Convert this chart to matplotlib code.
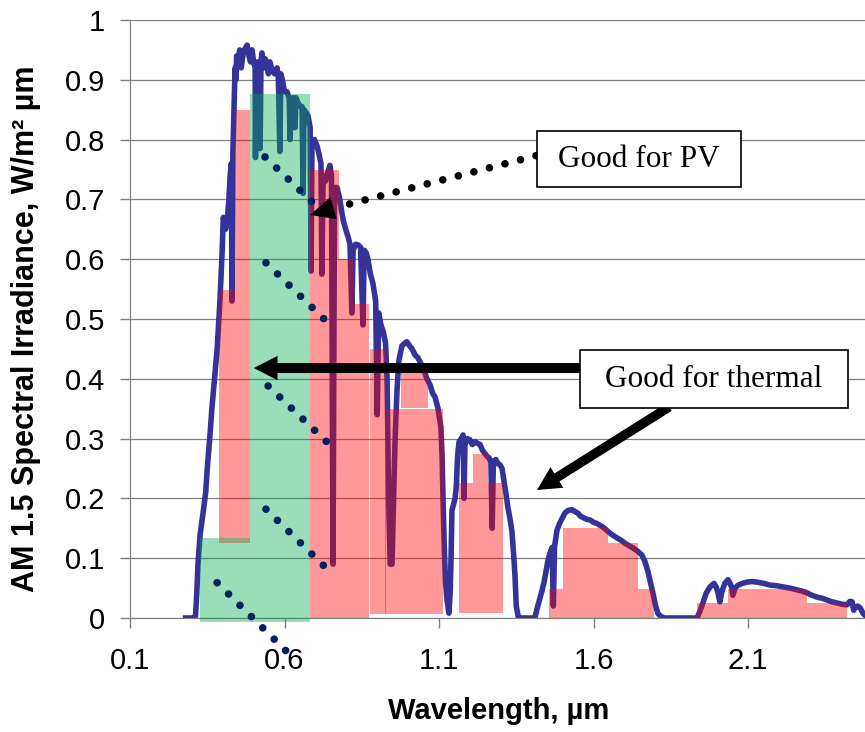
import matplotlib.pyplot as plt

# AM 1.5 spectrum (um, W/m2 um scaled)
wavelength = [
    0.280, 0.305, 0.312, 0.316, 0.320, 0.327, 0.335, 0.345, 0.350, 0.358,
    0.365, 0.375, 0.382, 0.391, 0.398, 0.402, 0.409, 0.414, 0.420, 0.424,
    0.428, 0.430, 0.433, 0.437, 0.440, 0.443, 0.445, 0.450, 0.455, 0.460,
    0.465, 0.470, 0.479, 0.485, 0.490, 0.495, 0.500, 0.505, 0.506, 0.509,
    0.514, 0.520, 0.521, 0.524, 0.527, 0.533, 0.538, 0.543, 0.548, 0.553,
    0.560, 0.568, 0.576, 0.580, 0.585, 0.588, 0.593, 0.600, 0.608, 0.615,
    0.618, 0.621, 0.628, 0.634, 0.637, 0.645, 0.652, 0.657, 0.660, 0.663,
    0.670, 0.676, 0.683, 0.686, 0.689, 0.697, 0.705, 0.712, 0.718, 0.721,
    0.725, 0.732, 0.740, 0.747, 0.752, 0.757, 0.762, 0.770, 0.779, 0.785,
    0.790, 0.798, 0.806, 0.812, 0.818, 0.822, 0.830, 0.838, 0.846, 0.854,
    0.858, 0.865, 0.870, 0.878, 0.886, 0.895, 0.900, 0.905, 0.912, 0.919,
    0.927, 0.932, 0.937, 0.942, 0.948, 0.953, 0.958, 0.964, 0.970, 0.980,
    0.990, 0.996, 1.005, 1.013, 1.022, 1.032, 1.042, 1.051, 1.061, 1.071,
    1.080, 1.087, 1.097, 1.106, 1.110, 1.113, 1.117, 1.121, 1.126, 1.132,
    1.136, 1.139, 1.142, 1.147, 1.152, 1.156, 1.160, 1.165, 1.172, 1.178,
    1.181, 1.184, 1.192, 1.200, 1.208, 1.217, 1.225, 1.233, 1.241, 1.249,
    1.256, 1.262, 1.268, 1.272, 1.276, 1.284, 1.291, 1.298, 1.304, 1.310,
    1.316, 1.323, 1.330, 1.336, 1.341, 1.346, 1.350, 1.356, 1.365, 1.410,
    1.417, 1.425, 1.433, 1.440, 1.447, 1.453, 1.460, 1.466, 1.470, 1.474,
    1.482, 1.490, 1.498, 1.508, 1.518, 1.530, 1.540, 1.550, 1.558, 1.566,
    1.578, 1.589, 1.600, 1.611, 1.621, 1.631, 1.642, 1.653, 1.664, 1.676,
    1.689, 1.702, 1.715, 1.728, 1.742, 1.757, 1.766, 1.776, 1.785, 1.793,
    1.801, 1.809, 1.820, 1.830, 1.935, 1.945, 1.954, 1.965, 1.977, 1.990,
    1.997, 2.003, 2.009, 2.016, 2.025, 2.035, 2.042, 2.048, 2.051, 2.058,
    2.068, 2.082, 2.097, 2.113, 2.129, 2.150, 2.171, 2.192, 2.213, 2.236,
    2.259, 2.275, 2.291, 2.307, 2.323, 2.340, 2.356, 2.372, 2.388, 2.405,
    2.420, 2.430, 2.437, 2.442, 2.446, 2.455, 2.463, 2.472, 2.480,
]
irradiance = [
    0.000, 0.000, 0.003, 0.040, 0.090, 0.140, 0.170, 0.210, 0.250, 0.300,
    0.350, 0.410, 0.450, 0.530, 0.610, 0.670, 0.650, 0.660, 0.700, 0.740,
    0.760, 0.530, 0.780, 0.860, 0.920, 0.900, 0.940, 0.930, 0.950, 0.920,
    0.940, 0.950, 0.958, 0.940, 0.930, 0.950, 0.930, 0.920, 0.770, 0.920,
    0.930, 0.930, 0.785, 0.930, 0.945, 0.920, 0.935, 0.925, 0.910, 0.930,
    0.915, 0.910, 0.920, 0.905, 0.780, 0.910, 0.900, 0.880, 0.880, 0.870,
    0.800, 0.865, 0.870, 0.820, 0.870, 0.860, 0.855, 0.855, 0.710, 0.850,
    0.845, 0.840, 0.820, 0.580, 0.800, 0.800, 0.790, 0.775, 0.760, 0.575,
    0.740, 0.730, 0.745, 0.757, 0.740, 0.090, 0.720, 0.720, 0.700, 0.680,
    0.665, 0.650, 0.637, 0.625, 0.510, 0.615, 0.625, 0.624, 0.620, 0.490,
    0.615, 0.610, 0.600, 0.575, 0.560, 0.530, 0.340, 0.510, 0.490, 0.480,
    0.460, 0.400, 0.200, 0.090, 0.090, 0.200, 0.300, 0.380, 0.430, 0.455,
    0.460, 0.462, 0.455, 0.450, 0.440, 0.435, 0.425, 0.415, 0.400, 0.390,
    0.375, 0.370, 0.350, 0.320, 0.270, 0.200, 0.120, 0.060, 0.030, 0.008,
    0.040, 0.100, 0.180, 0.190, 0.200, 0.220, 0.270, 0.295, 0.300, 0.306,
    0.200, 0.290, 0.300, 0.298, 0.290, 0.295, 0.292, 0.290, 0.280, 0.275,
    0.270, 0.268, 0.260, 0.150, 0.262, 0.265, 0.258, 0.256, 0.250, 0.230,
    0.210, 0.185, 0.165, 0.145, 0.110, 0.070, 0.020, 0.003, 0.000, 0.000,
    0.015, 0.030, 0.045, 0.060, 0.080, 0.097, 0.110, 0.118, 0.020, 0.120,
    0.147, 0.158, 0.166, 0.176, 0.180, 0.181, 0.178, 0.175, 0.170, 0.168,
    0.165, 0.164, 0.160, 0.158, 0.155, 0.152, 0.147, 0.142, 0.138, 0.134,
    0.130, 0.125, 0.121, 0.117, 0.112, 0.105, 0.095, 0.078, 0.058, 0.040,
    0.020, 0.007, 0.002, 0.000, 0.000, 0.012, 0.025, 0.042, 0.052, 0.058,
    0.052, 0.042, 0.027, 0.045, 0.058, 0.064, 0.058, 0.050, 0.038, 0.050,
    0.055, 0.058, 0.060, 0.061, 0.060, 0.058, 0.055, 0.054, 0.052, 0.050,
    0.047, 0.045, 0.042, 0.038, 0.035, 0.033, 0.030, 0.027, 0.025, 0.023,
    0.022, 0.028, 0.027, 0.013, 0.017, 0.020, 0.017, 0.008, 0.004,
]

# bands "good for thermal" (red blocks)
red_left = [0.388, 0.440, 0.683, 0.776, 0.822, 0.877, 0.925, 0.976, 1.165, 1.210, 1.456, 1.501, 1.501, 1.935, 2.035]
red_right = [0.488, 0.488, 0.776, 0.822, 0.873, 0.930, 1.113, 1.066, 1.307, 1.259, 1.796, 1.744, 1.647, 2.420, 2.291]
red_bottom = [0.125, 0.548, 0.0, 0.0, 0.0, 0.007, 0.007, 0.352, 0.008, 0.225, 0.0, 0.048, 0.125, 0.0, 0.025]
red_top = [0.548, 0.850, 0.750, 0.600, 0.525, 0.450, 0.350, 0.425, 0.225, 0.275, 0.048, 0.125, 0.150, 0.025, 0.048]

# band "good for PV" (green blocks)
green_left = [0.327, 0.488]
green_right = [0.683, 0.683]
green_bottom = [-0.007, 0.134]
green_top = [0.134, 0.876]

# navy dotted hatch lines over the PV band: (x0, y0, x1, y1)
hatch_lines = [
    (0.537, 0.771, 0.689, 0.696),
    (0.540, 0.594, 0.728, 0.500),
    (0.547, 0.388, 0.738, 0.294),
    (0.540, 0.182, 0.728, 0.087),
    (0.382, 0.059, 0.605, -0.055),
]

x_ticks = [0.1, 0.6, 1.1, 1.6, 2.1]
x_ticklabels = ["0.1", "0.6", "1.1", "1.6", "2.1"]
y_ticks = [0.0, 0.1, 0.2, 0.3, 0.4, 0.5, 0.6, 0.7, 0.8, 0.9, 1.0]
y_ticklabels = ["0", "0.1", "0.2", "0.3", "0.4", "0.5", "0.6", "0.7", "0.8", "0.9", "1"]

GRAY = "#808080"
BLUE = "#333399"
NAVY = "#002060"


def dotted(ax, x0, y0, x1, y1, color):
    ax.plot([x0, x1], [y0, y1], color=color, lw=5.5, linestyle=(0, (0.001, 2.1)),
            dash_capstyle="round", zorder=5, clip_on=False)


def arrow(ax, tip, tail, tail_width, head_length=1.7, head_width=1.75):
    style = f"simple,head_length={head_length},head_width={head_width},tail_width={tail_width}"
    ax.annotate("", xy=tip, xytext=tail,
                arrowprops=dict(arrowstyle=style, mutation_scale=10, fc="black", ec="none",
                                shrinkA=0, shrinkB=0),
                zorder=6, annotation_clip=False)


def text_box(ax, x0, x1, y0, y1, label):
    ax.add_patch(plt.Rectangle((x0, y0), x1 - x0, y1 - y0, fc="white", ec="black",
                               lw=1.2, zorder=6))
    ax.text((x0 + x1) / 2, (y0 + y1) / 2, label, ha="center", va="center",
            family="Liberation Serif", fontsize=22.5, zorder=7)


def main():
    plt.rcParams["font.family"] = "Liberation Sans"

    fig = plt.figure(figsize=(8.65, 7.32), dpi=100)
    ax = fig.add_axes([130 / 865, 114 / 732, 735 / 865, 598 / 732])

    # spectrum first, the coloured blocks are laid over it
    ax.plot(wavelength, irradiance, color=BLUE, lw=4, solid_joinstyle="round", zorder=2)

    red_w = [r - l for l, r in zip(red_left, red_right)]
    red_h = [t - b for b, t in zip(red_bottom, red_top)]
    ax.bar(red_left, red_h, width=red_w, bottom=red_bottom, align="edge",
           color="#FF0000", alpha=0.4, lw=0, zorder=3)

    green_w = [r - l for l, r in zip(green_left, green_right)]
    green_h = [t - b for b, t in zip(green_bottom, green_top)]
    bars = ax.bar(green_left, green_h, width=green_w, bottom=green_bottom, align="edge",
                  color="#00AC50", alpha=0.4, lw=0, zorder=3)
    for b in bars:
        b.set_clip_on(False)

    for x0, y0, x1, y1 in hatch_lines:
        dotted(ax, x0, y0, x1, y1, NAVY)

    # "Good for PV" dotted pointer
    dotted(ax, 1.414, 0.773, 0.763, 0.686, "black")
    arrow(ax, (0.683, 0.674), (0.763, 0.686), tail_width=0.0, head_length=1.75, head_width=1.65)

    # "Good for thermal" pointers
    arrow(ax, (0.501, 0.418), (1.556, 0.418), tail_width=0.72)
    arrow(ax, (1.417, 0.214), (1.845, 0.353), tail_width=0.68)

    text_box(ax, 1.417, 2.077, 0.721, 0.814, "Good for PV")
    text_box(ax, 1.556, 2.424, 0.351, 0.448, "Good for thermal")

    ax.set_xlim(0.1, 0.1 + 735 / 309)
    ax.set_ylim(0, 1)
    ax.set_xticks(x_ticks)
    ax.set_xticklabels(x_ticklabels)
    ax.set_yticks(y_ticks)
    ax.set_yticklabels(y_ticklabels)
    ax.tick_params(axis="both", direction="out", color=GRAY, width=1, length=7,
                   labelsize=21, labelcolor="black")
    ax.tick_params(axis="x", pad=14)
    ax.tick_params(axis="y", pad=11)

    ax.grid(axis="y", color=GRAY, lw=0.9)
    ax.set_axisbelow(True)
    for side in ["top", "right"]:
        ax.spines[side].set_visible(False)
    for side in ["left", "bottom"]:
        ax.spines[side].set_color(GRAY)
        ax.spines[side].set_linewidth(0.9)

    ax.set_xlabel("Wavelength, µm", fontsize=21, fontweight="bold", va="center")
    ax.xaxis.set_label_coords(0.502, -0.155)
    ax.set_ylabel("AM 1.5 Spectral Irradiance, W/m² µm", fontsize=22, fontweight="bold",
                  va="center")
    ax.yaxis.set_label_coords(-0.1415, 0.483)

    fig.savefig("out.png", dpi=100)


if __name__ == "__main__":
    main()
